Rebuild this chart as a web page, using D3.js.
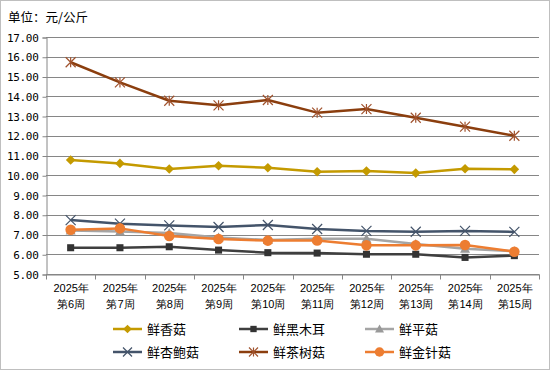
<!DOCTYPE html>
<html>
<head>
<meta charset="utf-8">
<script src="https://cdn.jsdelivr.net/npm/d3@7"></script>
<style>
  body { margin: 0; background: #fff; }
  svg { display: block; font-family: "Noto Sans CJK SC", "DejaVu Sans", sans-serif; }
</style>
</head>
<body>
<div id="chart"></div>
<script>
const weeks = ['第6周', '第7周', '第8周', '第9周', '第10周', '第11周', '第12周', '第13周', '第14周', '第15周'];
const yearLabel = '2025年';

const seriesNames = ['鲜香菇', '鲜黑木耳', '鲜平菇', '鲜杏鲍菇', '鲜茶树菇', '鲜金针菇'];
const xiangGu   = [10.77, 10.60, 10.32, 10.48, 10.38, 10.18, 10.21, 10.11, 10.33, 10.30];
const heiMuEr   = [6.33, 6.33, 6.38, 6.21, 6.08, 6.06, 6.00, 6.00, 5.84, 5.93];
const pingGu    = [7.20, 7.15, 7.08, 6.85, 6.72, 6.79, 6.79, 6.52, 6.28, 6.15];
const xingBaoGu = [7.73, 7.55, 7.46, 7.38, 7.48, 7.28, 7.18, 7.14, 7.18, 7.13];
const chaShuGu  = [15.72, 14.70, 13.77, 13.54, 13.81, 13.17, 13.35, 12.91, 12.46, 12.00];
const jinZhenGu = [7.24, 7.31, 6.92, 6.77, 6.69, 6.70, 6.45, 6.45, 6.47, 6.13];

const seriesValues = [xiangGu, heiMuEr, pingGu, xingBaoGu, chaShuGu, jinZhenGu];
const colors = ['#C49A00', '#3F3F3F', '#A5A5A5', '#44546A', '#8B3E0E', '#ED7D31'];
const markerFill = ['#C49A00', '#333333', '#999999', '#44546A', '#A0522D', '#ED7D31'];
const markers = ['diamond', 'square', 'triangle', 'x', 'asterisk', 'circle'];

const W = 550, H = 370;
const margin = {left: 46, right: 11, top: 37, bottom: 96};

const svg = d3.select('#chart').append('svg').attr('width', W).attr('height', H);
svg.append('rect').attr('x', 0.5).attr('y', 0.5).attr('width', W - 1).attr('height', H - 1)
  .attr('fill', '#fff').attr('stroke', '#BFBFBF');

svg.append('text').attr('x', 8).attr('y', 22).attr('font-size', 12.5).attr('fill', '#000')
  .text('单位：元/公斤');

const x = d3.scaleBand().domain(weeks).range([margin.left, W - margin.right]);
const y = d3.scaleLinear().domain([5, 17]).range([H - margin.bottom, margin.top]);

// gridlines
const ticks = d3.range(5, 17.01, 1);
svg.append('g').selectAll('line').data(ticks).enter().append('line')
  .attr('x1', margin.left).attr('x2', W - margin.right)
  .attr('y1', d => Math.round(y(d)) + 0.5).attr('y2', d => Math.round(y(d)) + 0.5)
  .attr('stroke', '#868686').attr('stroke-width', 1);

// y axis
const yAxis = svg.append('g').attr('transform', `translate(${margin.left + 0.5},0.5)`)
  .call(d3.axisLeft(y).tickValues(ticks).tickFormat(d3.format('.2f')).tickSize(4).tickPadding(4));
yAxis.select('.domain').attr('stroke', '#868686');
yAxis.selectAll('.tick line').attr('stroke', '#868686');
yAxis.selectAll('text').attr('font-size', 11).attr('fill', '#000')
  .attr('font-family', '"DejaVu Sans Mono", monospace').attr('letter-spacing', -0.3);

// x axis
const xAxis = svg.append('g').attr('transform', `translate(0.5,${H - margin.bottom + 0.5})`)
  .call(d3.axisBottom(x).tickSize(0).tickFormat(''));
xAxis.select('.domain').attr('stroke', '#868686');
const bounds = weeks.map(w => x(w)).concat([x.range()[1]]);
xAxis.selectAll('.sep').data(bounds).enter().append('line')
  .attr('x1', d => Math.round(d)).attr('x2', d => Math.round(d))
  .attr('y1', 0).attr('y2', 5).attr('stroke', '#868686');
const xl = xAxis.selectAll('.lbl').data(weeks).enter().append('text')
  .attr('text-anchor', 'middle').attr('font-size', 11).attr('fill', '#000')
  .attr('transform', d => `translate(${x(d) + x.bandwidth() / 2},0)`);
xl.append('tspan').attr('x', 0).attr('y', 17).text(yearLabel);
xl.append('tspan').attr('x', 0).attr('y', 33).text(d => d);

function drawMarker(g, type, color, fill, size) {
  const s = size;
  if (type === 'diamond') {
    g.append('path').attr('d', `M0,${-s}L${s},0L0,${s}L${-s},0Z`).attr('fill', fill);
  } else if (type === 'square') {
    g.append('rect').attr('x', -s * 0.8).attr('y', -s * 0.8).attr('width', s * 1.6).attr('height', s * 1.6).attr('fill', fill);
  } else if (type === 'triangle') {
    g.append('path').attr('d', `M0,${-s}L${s},${s * 0.8}L${-s},${s * 0.8}Z`).attr('fill', fill);
  } else if (type === 'x') {
    g.append('path').attr('d', `M${-s},${-s}L${s},${s}M${s},${-s}L${-s},${s}`)
      .attr('stroke', fill).attr('stroke-width', 1.2).attr('fill', 'none');
  } else if (type === 'asterisk') {
    g.append('path').attr('d', `M${-s},${-s}L${s},${s}M${s},${-s}L${-s},${s}M0,${-s}L0,${s}`)
      .attr('stroke', fill).attr('stroke-width', 1.2).attr('fill', 'none');
  } else if (type === 'circle') {
    g.append('circle').attr('r', s * 1.1).attr('fill', fill);
  }
}

const line = d3.line().x((d, i) => x(weeks[i]) + x.bandwidth() / 2).y(d => y(d));
const markerSize = [4.8, 4.4, 5, 5, 5, 4.8];

seriesValues.forEach((vals, si) => {
  const g = svg.append('g');
  g.append('path').datum(vals).attr('d', line).attr('fill', 'none')
    .attr('stroke', colors[si]).attr('stroke-width', 2.5).attr('stroke-linejoin', 'round');
  vals.forEach((v, i) => {
    const m = g.append('g').attr('transform', `translate(${x(weeks[i]) + x.bandwidth() / 2},${y(v)})`);
    drawMarker(m, markers[si], colors[si], markerFill[si], markerSize[si]);
  });
});

// legend
const legX = [113, 239, 365];
const legY = [329, 352];
seriesNames.forEach((name, i) => {
  const lx = legX[i % 3], ly = legY[Math.floor(i / 3)];
  const g = svg.append('g').attr('transform', `translate(${lx},${ly})`);
  g.append('line').attr('x1', 0).attr('x2', 29).attr('y1', 0).attr('y2', 0)
    .attr('stroke', colors[i]).attr('stroke-width', 2.5);
  const m = g.append('g').attr('transform', 'translate(14.5,0)');
  drawMarker(m, markers[i], colors[i], markerFill[i], markerSize[i] * 0.9);
  g.append('text').attr('x', 34).attr('y', 5).attr('font-size', 13).attr('fill', '#000').text(name);
});
</script>
</body>
</html>
